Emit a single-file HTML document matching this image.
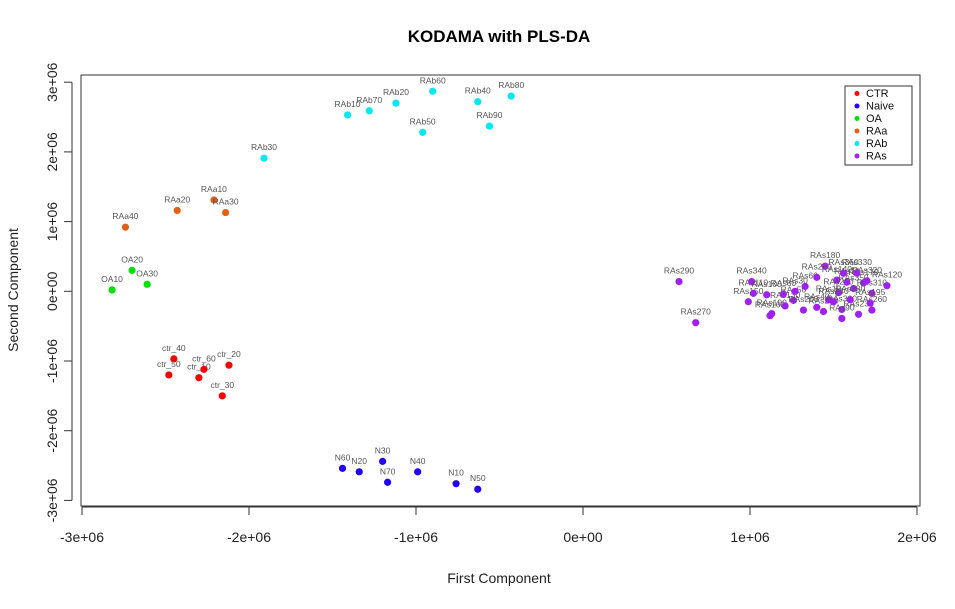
<!DOCTYPE html>
<html><head><meta charset="utf-8"><style>
body{margin:0;background:#fff;}
svg{display:block;font-family:"Liberation Sans",Arial,sans-serif;}
</style></head><body>
<svg id="c" width="955" height="609">
<rect width="955" height="609" fill="#fff"/>
<text x="499" y="42" text-anchor="middle" font-size="17" font-weight="bold">KODAMA with PLS-DA</text>
<rect x="81" y="75" width="839" height="431" fill="none" stroke="#333"/>
<text x="499" y="583" text-anchor="middle" font-size="14" fill="#222">First Component</text>
<text transform="translate(18,290) rotate(-90)" text-anchor="middle" font-size="14" fill="#222">Second Component</text>
<g id="axes"></g><g id="marks"></g>
<g id="legend"><rect x="845" y="86" width="67" height="79" fill="#fff" stroke="#333"/></g>
</svg>
<script>
const groupNames=["CTR","Naive","OA","RAa","RAb","RAs"];
const groupColors=["#ff0000","#2200ff","#00e000","#e0601a","#00e8f0","#a020f0"];
const xTicks=[-3,-2,-1,0,1,2];
const xTickLabels=["-3e+06","-2e+06","-1e+06","0e+00","1e+06","2e+06"];
const yTicks=[-3,-2,-1,0,1,2,3];
const yTickLabels=["-3e+06","-2e+06","-1e+06","0e+00","1e+06","2e+06","3e+06"];
const pointLabels=["ctr_40","ctr_50","ctr_10","ctr_60","ctr_20","ctr_30",
"N60","N20","N30","N70","N40","N10","N50",
"OA10","OA20","OA30",
"RAa40","RAa20","RAa10","RAa30",
"RAb30","RAb10","RAb70","RAb20","RAb60","RAb50","RAb40","RAb90","RAb80",
"RAs290","RAs270","RAs150","RAs110","RAs340","RAs100","RAs190","RAs160","RAs130","RAs80","RAs50","RAs30","RAs200","RAs60","RAs210","RAs40","RAs250","RAs180","RAs10","RAs140","RAs220","RAs300","RAs90","RAs70","RAs350","RAs230","RAs170","RAs260","RAs310","RAs120","RAs320","RAs330","RAs360","RAs240","RAs195","RAs280"];
const pointGroups=[0,0,0,0,0,0, 1,1,1,1,1,1,1, 2,2,2, 3,3,3,3, 4,4,4,4,4,4,4,4,4,
5,5,5,5,5,5,5,5,5,5,5,5,5,5,5,5,5,5,5,5,5,5,5,5,5,5,5,5,5,5,5,5,5,5,5,5];
const xValues=[-2.45,-2.48,-2.30,-2.27,-2.12,-2.16,
-1.44,-1.34,-1.20,-1.17,-0.99,-0.76,-0.63,
-2.82,-2.70,-2.61,
-2.74,-2.43,-2.21,-2.14,
-1.91,-1.41,-1.28,-1.12,-0.90,-0.96,-0.63,-0.56,-0.43,
0.575,0.675,0.99,1.02,1.01,1.10,1.13,1.12,1.21,1.20,1.26,1.27,1.32,1.33,1.40,1.40,1.44,1.45,1.47,1.52,1.53,1.55,1.55,1.58,1.62,1.65,1.68,1.73,1.73,1.82,1.70,1.64,1.56,1.50,1.72,1.60];
const yValues=[-0.97,-1.20,-1.24,-1.12,-1.06,-1.50,
-2.54,-2.59,-2.44,-2.74,-2.59,-2.76,-2.84,
0.02,0.30,0.10,
0.92,1.16,1.31,1.13,
1.91,2.53,2.59,2.70,2.87,2.28,2.72,2.37,2.80,
0.14,-0.45,-0.15,-0.03,0.14,-0.05,-0.32,-0.35,-0.21,-0.04,-0.13,0.00,-0.27,0.07,0.20,-0.23,-0.29,0.36,-0.12,0.16,-0.02,-0.26,-0.39,0.13,0.04,-0.33,0.12,-0.27,-0.03,0.08,0.15,0.26,0.26,-0.15,-0.17,-0.12];
const NS="http://www.w3.org/2000/svg";
const sx=v=>583+v*167, sy=v=>291.3-v*69.7;
function mk(t,a,p){const e=document.createElementNS(NS,t);for(const k in a)e.setAttribute(k,a[k]);p.appendChild(e);return e;}
const ax=document.getElementById('axes'), mg=document.getElementById('marks'), lg=document.getElementById('legend');
mk('line',{x1:sx(-3),x2:sx(2),y1:507,y2:507,stroke:'#333'},ax);
xTicks.forEach((t,i)=>{mk('line',{x1:sx(t),x2:sx(t),y1:507,y2:515,stroke:'#333'},ax);
const tx=mk('text',{x:sx(t),y:542,'text-anchor':'middle','font-size':14,fill:'#222'},ax);tx.textContent=xTickLabels[i];

});
mk('line',{x1:72,x2:72,y1:sy(3),y2:sy(-3),stroke:'#333'},ax);
yTicks.forEach((t,i)=>{mk('line',{x1:64,x2:72,y1:sy(t),y2:sy(t),stroke:'#333'},ax);
const tx=mk('text',{transform:`translate(57,${sy(t)}) rotate(-90)`,'text-anchor':'middle','font-size':14,fill:'#222'},ax);tx.textContent=yTickLabels[i];

});
xValues.forEach((x,i)=>{const c=mk('circle',{cx:sx(x),cy:sy(yValues[i]),r:3.6,fill:groupColors[pointGroups[i]]},mg);


const t=mk('text',{x:sx(x),y:sy(yValues[i])-8,'text-anchor':'middle','font-size':8.5,fill:'#555'},mg);t.textContent=pointLabels[i];

});
groupNames.forEach((g,i)=>{const y=97+i*12.5;
const c=mk('circle',{cx:857,cy:y-3.5,r:2.5,fill:groupColors[i]},lg);


const t=mk('text',{x:866,y:y,'font-size':11,fill:'#111'},lg);t.textContent=g;

});
</script>
</body></html>
